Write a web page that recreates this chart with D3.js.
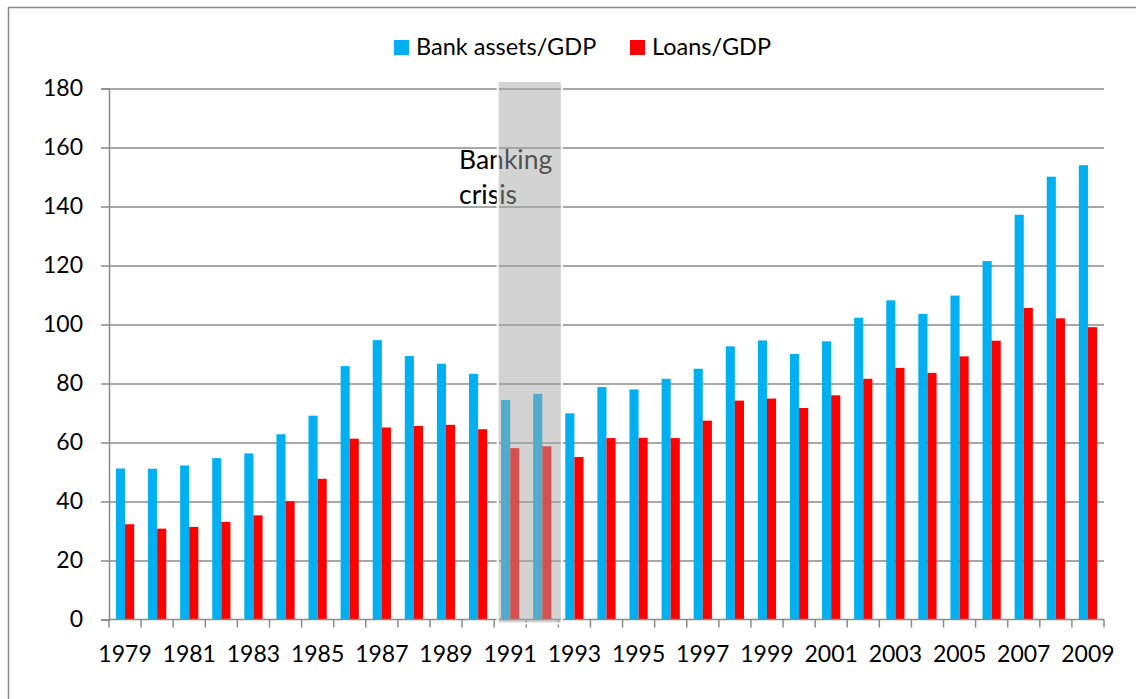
<!DOCTYPE html>
<html>
<head>
<meta charset="utf-8">
<script src="https://cdn.jsdelivr.net/npm/d3@7"></script>
<style>
  body { margin: 0; background: #fff; }
  svg { display: block; font-family: Lato, "Open Sans", sans-serif; }
</style>
</head>
<body>
<div id="chart"></div>
<script>
const years = d3.range(1979, 2010).map(String)
const bankAssets = [51.2, 51.1, 52.2, 54.7, 56.3, 62.8, 69.1, 85.9, 94.7, 89.3, 86.7, 83.3,
    74.4, 76.5, 69.9, 78.8, 78.0, 81.6, 85.0, 92.6, 94.6, 90.0, 94.3, 102.3, 108.2, 103.6,
    109.8, 121.5, 137.2, 150.1, 154.0]
const loans = [32.3, 30.8, 31.4, 33.1, 35.3, 40.1, 47.7, 61.3, 65.1, 65.6, 66.0, 64.5,
    58.1, 58.7, 55.1, 61.5, 61.6, 61.5, 67.4, 74.2, 74.9, 71.7, 76.0, 81.6, 85.3, 83.6,
    89.2, 94.5, 105.6, 102.1, 99.1]
const seriesNames = ["Bank assets/GDP", "Loans/GDP"]
const yTicks = [0, 20, 40, 60, 80, 100, 120, 140, 160, 180]
const xLabels = years.filter((d, i) => i % 2 === 0)
const crisisYears = ["1991", "1992"]

const colors = ["#00B0F0", "#FF0000"]
const gridColor = "#8a8a8a"

const width = 1136, height = 699
const marginTop = 88.5, marginBottom = 79.5, marginLeft = 109, marginRight = 32

const svg = d3.select("#chart").append("svg")
    .attr("width", width)
    .attr("height", height)
    .attr("viewBox", [0, 0, width, height])

// outer chart frame (only left/top edges visible)
svg.append("rect")
    .attr("x", 8.5).attr("y", 7.5)
    .attr("width", 1400).attr("height", 900)
    .attr("fill", "none")
    .attr("stroke", gridColor)
    .attr("stroke-width", 1.5)

const x0 = d3.scaleBand(years, [marginLeft, width - marginRight]).padding(0)
const x1 = d3.scaleBand(seriesNames, [0, x0.bandwidth()]).paddingInner(0).paddingOuter(0.76)
const y = d3.scaleLinear([0, 180], [height - marginBottom, marginTop])

// y axis + gridlines
svg.append("g")
    .attr("transform", `translate(${marginLeft},0)`)
    .call(d3.axisLeft(y).tickValues(yTicks).tickSize(8).tickPadding(18))
    .call(g => g.select(".domain").attr("stroke", gridColor).attr("stroke-width", 1.5))
    .call(g => g.selectAll(".tick line").attr("stroke", gridColor).attr("stroke-width", 1.5))
    .call(g => g.selectAll(".tick").filter(d => d > 0).append("line")
        .attr("x2", width - marginRight - marginLeft)
        .attr("stroke", gridColor)
        .attr("stroke-width", 1.5))
    .call(g => g.selectAll(".tick text")
        .attr("fill", "#000")
        .attr("font-size", 23)
        .attr("font-family", "Lato, sans-serif"))

// bars
const groups = svg.append("g")
    .selectAll("g")
    .data(years)
    .join("g")
    .attr("transform", d => `translate(${x0(d)},0)`)

groups.selectAll("rect")
    .data((d, i) => [bankAssets[i], loans[i]].map((v, k) => ({ key: seriesNames[k], value: v, k })))
    .join("rect")
    .attr("x", d => x1(d.key))
    .attr("width", x1.bandwidth())
    .attr("y", d => y(d.value))
    .attr("height", d => y(0) - y(d.value))
    .attr("fill", d => colors[d.k])

// x axis: baseline, ticks at category boundaries, labels every other year
const xAxis = svg.append("g").attr("transform", `translate(0,${y(0)})`)
xAxis.append("line")
    .attr("x1", marginLeft).attr("x2", width - marginRight)
    .attr("stroke", gridColor).attr("stroke-width", 1.5)
xAxis.selectAll(".xtick")
    .data(years.map(d => x0(d)).concat([width - marginRight]))
    .join("line")
    .attr("class", "xtick")
    .attr("x1", d => d).attr("x2", d => d)
    .attr("y1", 0).attr("y2", 8)
    .attr("stroke", gridColor).attr("stroke-width", 1.5)
xAxis.selectAll("text")
    .data(xLabels)
    .join("text")
    .attr("x", d => x0(d) + x0.bandwidth() / 2)
    .attr("y", 42)
    .attr("text-anchor", "middle")
    .attr("font-size", 23)
    .attr("fill", "#000")
    .text(d => d)

// banking crisis annotation
const crisisText = svg.append("text")
    .attr("x", 459)
    .attr("y", 169)
    .attr("font-size", 26.5)
    .attr("fill", "#000")
crisisText.append("tspan").attr("x", 459).text("Banking")
crisisText.append("tspan").attr("x", 459).attr("dy", 35).text("crisis")

const step = x0.step()
svg.append("rect")
    .attr("x", x0(crisisYears[0]) + 3.5)
    .attr("y", y(180) - 7.5)
    .attr("width", step * crisisYears.length)
    .attr("height", y(0) - y(180) + 11.5)
    .attr("fill", "rgb(165,165,165)")
    .attr("fill-opacity", 0.49)
    .attr("stroke", "#fff")
    .attr("stroke-width", 2)

// legend
const legend = svg.append("g")
const legendX = [394, 630]
seriesNames.forEach((name, i) => {
    legend.append("rect")
        .attr("x", legendX[i]).attr("y", 40)
        .attr("width", 15).attr("height", 15)
        .attr("fill", colors[i])
    legend.append("text")
        .attr("x", legendX[i] + 22).attr("y", 55)
        .attr("font-size", 23.5)
        .attr("fill", "#000")
        .text(name)
})
</script>
</body>
</html>
